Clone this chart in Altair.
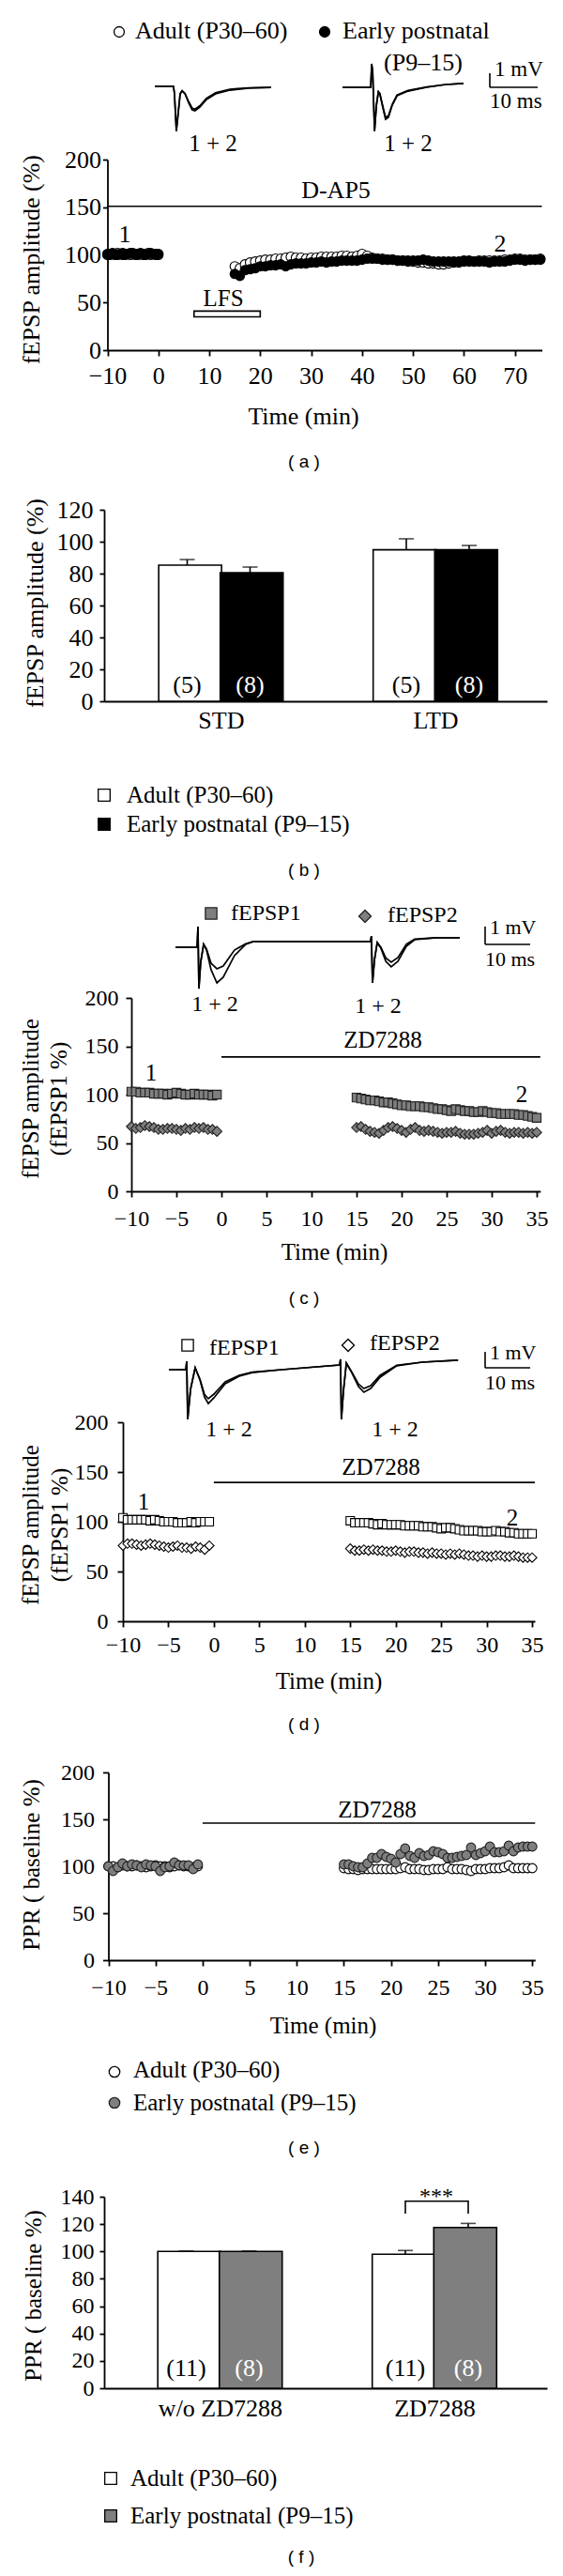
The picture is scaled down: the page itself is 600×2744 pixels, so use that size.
import altair as alt
import pandas as pd

W, H = 584, 2726
OFF = 8
SERIF = "Liberation Serif"
SANS = "Liberation Sans"
GRAY = "#7f7f7f"
EDGE = "#222222"

ADULT = "Adult (P30–60)"
EARLY = "Early postnatal (P9–15)"

# ---------------- (a) LFS in D-AP5 : fEPSP amplitude (%) ----------------
a_base_t = [-10, -9.5, -9, -8.5, -8, -7.5, -7, -6.5, -6, -5.5, -5, -4.5, -4, -3.5, -3, -2.5, -2, -1.5, -1, -0.5, 0]
a_base_adult = [100, 101, 101, 100, 102, 101, 100, 101, 101, 100, 102, 101, 100, 101, 100, 101, 102, 100, 101, 101, 100]
a_base_early = [101, 100, 102, 101, 100, 101, 102, 100, 101, 102, 101, 100, 101, 102, 101, 100, 101, 102, 101, 100, 101]
a_post_t = [15, 16, 17, 18, 19, 20, 21, 22, 23, 24, 25, 26, 27, 28, 29, 30, 31, 32, 33, 34, 35, 36, 37, 38, 39, 40,
            41, 42, 43, 44, 45, 46, 47, 48, 49, 50, 51, 52, 53, 54, 55, 56, 57, 58, 59, 60, 61, 62, 63, 64, 65, 66,
            67, 68, 69, 70, 71, 72, 73, 74, 75]
a_post_adult = [88, 86, 90, 92, 93, 94, 95, 95, 96, 96,
                97, 98, 97, 97, 96, 97, 97, 98, 98, 98,
                98, 99, 99, 98, 99, 101, 99, 97, 96, 96,
                95, 95, 94, 94, 93, 93, 92, 92, 91, 91,
                90, 90, 91, 92, 92, 93, 93, 93, 94, 94,
                94, 94, 94, 95, 95, 96, 96, 95, 95, 95,
                96]
a_post_early = [80, 78, 84, 85, 86, 88, 88, 89, 89, 90,
                88, 90, 91, 91, 91, 92, 92, 93, 92, 93,
                93, 94, 94, 94, 94, 95, 96, 96, 96, 95,
                95, 95, 94, 94, 94, 94, 94, 95, 94, 93,
                93, 93, 93, 93, 93, 94, 94, 93, 93, 93,
                92, 93, 93, 93, 94, 95, 95, 94, 95, 95,
                95]
a_ticks_x = [-10, 0, 10, 20, 30, 40, 50, 60, 70]
a_ticks_y = [0, 50, 100, 150, 200]

# waveform insets (ms, mV relative to baseline)
trA1_t = [0, 3.9, 4.1, 4.5, 4.9, 5.3, 5.7, 6.3, 7.1, 7.8, 8.4, 9.4, 10.8, 12.7, 15.7, 19.6, 24.3]
trA1_v1 = [0, 0, -0.53, -3.2, -1.87, -0.53, -0.33, -0.53, -1.2, -1.67, -1.73, -1.47, -0.93, -0.53, -0.27, -0.13, -0.07]
trA1_v2 = [0, 0, -0.5, -3.1, -1.8, -0.5, -0.3, -0.5, -1.1, -1.55, -1.62, -1.38, -0.85, -0.45, -0.2, -0.1, -0.07]
trA2_t = [0, 5.9, 6.1, 6.3, 6.7, 7.1, 7.5, 7.8, 8.4, 9.0, 9.6, 10.4, 11.4, 13.7, 17.6, 21.6, 25.3]
trA2_v1 = [0, 0, 1.67, 1.2, -3.13, -1.27, -0.33, -0.47, -1.4, -2.27, -2.13, -1.27, -0.6, -0.27, 0, 0.2, 0.27]
trA2_v2 = [0, 0, 1.6, 1.1, -3.05, -1.2, -0.3, -0.42, -1.3, -2.15, -2.02, -1.2, -0.55, -0.22, 0.03, 0.2, 0.27]

# ---------------- (b) STD / LTD bars ----------------
b_cats = ["STD", "LTD"]
b_adult = [85.3, 94.9]
b_adult_top = [88.8, 101.8]
b_early = [80.6, 94.9]
b_early_top = [84.1, 97.6]
b_n_adult = ["(5)", "(5)"]
b_n_early = ["(8)", "(8)"]
b_ticks_y = [0, 20, 40, 60, 80, 100, 120]

# ---------------- (c), (d), (e) time courses ----------------
cde_base_t = [-10, -9.5, -9, -8.5, -8, -7.5, -7, -6.5, -6, -5.5, -5, -4.5, -4, -3.5, -3, -2.5, -2, -1.5, -1, -0.5]
cde_post_t = [15, 15.5, 16, 16.5, 17, 17.5, 18, 18.5, 19, 19.5, 20, 20.5, 21, 21.5, 22, 22.5, 23, 23.5, 24, 24.5,
              25, 25.5, 26, 26.5, 27, 27.5, 28, 28.5, 29, 29.5, 30, 30.5, 31, 31.5, 32, 32.5, 33, 33.5, 34, 34.5, 35]
cde_ticks_x = [-10, -5, 0, 5, 10, 15, 20, 25, 30, 35]
cde_ticks_y = [0, 50, 100, 150, 200]

c_p1_base = [103, 103, 102, 102, 102, 101, 101, 101, 100, 101, 102, 101, 100, 100, 101, 100, 100, 100, 99, 100]
c_p2_base = [67, 65, 66, 68, 67, 66, 64, 64, 65, 65, 64, 63, 65, 64, 66, 65, 66, 64, 64, 62]
c_p1_post = [97, 96, 95, 94, 94, 93, 92, 92, 91, 90,
             89, 89, 88, 88, 88, 87, 87, 86, 85, 85,
             84, 83, 85, 84, 83, 83, 82, 82, 83, 82,
             81, 81, 80, 80, 80, 80, 79, 79, 78, 77,
             76]
c_p2_post = [66, 67, 64, 62, 61, 60, 63, 66, 67, 65,
             63, 61, 64, 66, 63, 62, 63, 62, 61, 60,
             61, 61, 62, 60, 59, 59, 59, 60, 61, 63,
             60, 62, 63, 61, 60, 61, 61, 60, 61, 60,
             61]
trC_t = [0, 4.8, 5.0, 5.2, 5.6, 6.25, 6.9, 7.9, 9.2, 10.6, 13.1, 15.6, 17.3, 43.3, 43.5, 43.75, 44.2, 44.8,
         45.6, 46.7, 47.9, 49.4, 51.25, 53.1, 57.9, 63.1]
trC_v1 = [0, 0, 1.16, -2.32, -0.84, 0.16, -0.16, -1.26, -2.0, -1.68, -0.47, 0.16, 0.32, 0.32, 0.63, -2.0, -0.68,
          0.26, -0.05, -0.79, -1.1, -0.79, 0.05, 0.42, 0.53, 0.53]
trC_v2 = [0, 0, 1.16, -2.32, -0.84, 0.16, -0.1, -0.9, -1.21, -1.05, -0.16, 0.2, 0.32, 0.32, 0.63, -2.0, -0.68,
          0.26, 0.0, -0.6, -0.84, -0.58, 0.16, 0.45, 0.53, 0.53]

d_p1_base = [104, 102, 102, 102, 102, 102, 101, 102, 101, 100, 100, 100, 99, 99, 99, 100, 99, 100, 100, 100]
d_p2_base = [76, 78, 78, 77, 76, 77, 78, 77, 76, 75, 74, 75, 76, 74, 74, 73, 75, 74, 72, 76]
d_p1_post = [101, 99, 99, 99, 99, 98, 97, 98, 97, 97,
             97, 97, 96, 96, 96, 96, 95, 95, 95, 94,
             93, 94, 94, 93, 92, 91, 91, 91, 91, 90,
             90, 90, 91, 90, 90, 89, 89, 88, 88, 88,
             88]
d_p2_post = [73, 71, 71, 72, 71, 72, 71, 71, 70, 70,
             71, 70, 69, 70, 70, 69, 69, 68, 69, 68,
             68, 67, 68, 67, 68, 67, 66, 66, 65, 66,
             65, 65, 66, 66, 65, 65, 66, 65, 64, 64,
             64]
trD_t = [0, 3.75, 3.96, 4.17, 4.8, 5.83, 6.9, 7.9, 8.75, 10.0, 12.5, 15.6, 18.5, 25, 37.9, 38.1, 38.3, 38.75,
         39.4, 40.6, 42.1, 43.3, 44.8, 46.9, 50.6, 56.25, 64.2]
trD_v1 = [0, 0, 0.53, -3.12, -1.24, 0.12, -0.65, -1.71, -2.12, -1.76, -0.88, -0.41, -0.18, 0, 0.29, 0.65, -3.12,
          -1.35, 0.41, -0.18, -1.06, -1.41, -1.18, -0.47, 0.24, 0.47, 0.59]
trD_v2 = [0, 0, 0.53, -3.12, -1.24, 0.12, -0.6, -1.55, -1.82, -1.53, -0.76, -0.35, -0.15, 0, 0.29, 0.65, -3.12,
          -1.35, 0.41, -0.15, -0.9, -1.18, -1.0, -0.35, 0.28, 0.47, 0.59]

e_adult_base = [100, 100, 99, 101, 100, 100, 101, 100, 99, 100, 101, 100, 100, 99, 100, 101, 100, 100, 99, 100]
e_early_base = [100, 95, 99, 103, 100, 102, 101, 99, 102, 101, 100, 95, 99, 100, 104, 101, 101, 101, 97, 102]
e_adult_post = [98, 97, 97, 96, 97, 97, 97, 97, 97, 97,
                97, 97, 98, 99, 97, 97, 97, 96, 96, 97,
                97, 97, 99, 97, 97, 97, 96, 95, 97, 97,
                97, 98, 98, 98, 99, 101, 98, 98, 98, 98,
                98]
e_early_post = [102, 102, 100, 99, 99, 103, 109, 109, 113, 110,
                108, 104, 113, 119, 111, 109, 114, 111, 112, 116,
                115, 113, 109, 109, 110, 111, 112, 120, 112, 114,
                116, 121, 115, 115, 116, 122, 116, 120, 121, 121,
                121]

# ---------------- (f) PPR bars ----------------
f_cats = ["w/o ZD7288", "ZD7288"]
f_adult = [100, 98]
f_adult_top = [100.3, 100.7]
f_early = [100, 117.5]
f_early_top = [100.3, 120.5]
f_n_adult = ["(11)", "(11)"]
f_n_early = ["(8)", "(8)"]
f_ticks_y = [0, 20, 40, 60, 80, 100, 120, 140]
f_bracket_low, f_bracket_high = 127.7, 136.7

# =====================================================================
ONE = pd.DataFrame({"k": [0]})


def P(v):
    return v - OFF


def lin(d0, d1, r0, r1):
    return alt.Scale(domain=[d0, d1], range=[P(r0), P(r1)], nice=False, zero=False)


AX = dict(domainColor="black", domainWidth=1.8, tickColor="black", tickWidth=1.8,
          labelColor="black", labelFont=SERIF, titleFont=SERIF, titleColor="black",
          titleFontWeight="normal", grid=False, labelFlush=False, labelOverlap=False)


def x_axis(axis_y, values, title=None, tx=0, ty=0, fs=24, tfs=25, lab_dist=27, tick=6, ticks=True,
           label_expr=None):
    kw = dict(orient="bottom", offset=P(axis_y) - H, values=values, labelFontSize=fs,
              labelBaseline="middle", labelAngle=0, **AX)
    if label_expr:
        kw["labelExpr"] = label_expr
    if ticks:
        kw["tickSize"] = tick
        kw["labelPadding"] = lab_dist - tick
    else:
        kw["ticks"] = False
        kw["tickSize"] = 0
        kw["labelPadding"] = lab_dist
    if title:
        kw.update(title=title, titleFontSize=tfs, titleX=P(tx), titleY=ty - axis_y,
                  titleAlign="center", titleBaseline="middle", titleAngle=0)
    else:
        kw["title"] = ""
    return alt.Axis(**kw)


def y_axis(axis_x, values, title, tx, ty, fs=24, tfs=25, tick=6, pad=8, lh=0):
    kw = dict(orient="left", offset=-P(axis_x), values=values, tickSize=tick, labelFontSize=fs,
              labelPadding=pad, labelAlign="right", labelBaseline="middle",
              title=title, titleFontSize=tfs, titleX=tx - axis_x, titleY=P(ty),
              titleAngle=270, titleAlign="center", titleBaseline="middle", **AX)
    if lh:
        kw["titleLineHeight"] = lh
    return alt.Axis(**kw)


def txt(s, x, y, size=25, font=SERIF, align="center", color="black"):
    return alt.Chart(ONE).mark_text(text=s, font=font, fontSize=size, align=align, baseline="middle",
                                    color=color).encode(x=alt.value(P(x)), y=alt.value(P(y)))


def sym(x, y, shape, size, fill, stroke="black", sw=1.3):
    return alt.Chart(ONE).mark_point(shape=shape, size=size, filled=True, fill=fill, stroke=stroke,
                                     strokeWidth=sw, opacity=1).encode(x=alt.value(P(x)), y=alt.value(P(y)))


def hline(x1, x2, y, w=1.6):
    return alt.Chart(ONE).mark_rule(color="black", strokeWidth=w).encode(
        x=alt.value(P(x1)), x2=alt.value(P(x2)), y=alt.value(P(y)))


def vline(x, y1, y2, w=1.6):
    return alt.Chart(ONE).mark_rule(color="black", strokeWidth=w).encode(
        x=alt.value(P(x)), y=alt.value(P(y1)), y2=alt.value(P(y2)))


def scalebar(x, ytop, ybot, xend, ty1, ty2, fs=22):
    return [vline(x, ytop, ybot), hline(x, xend, ybot),
            txt("1 mV", x + 5, ty1, fs, align="left"), txt("10 ms", x, ty2, fs, align="left")]


def trace(t, v1, v2, x0, y0, pxms, pxmv, vmin=-4, vmax=2):
    df = pd.DataFrame({"t": t + t, "v": v1 + v2, "c": ["1"] * len(t) + ["2"] * len(t)})
    xs = lin(0, t[-1], x0, x0 + t[-1] * pxms)
    ys = lin(vmin, vmax, y0 - vmin * pxmv, y0 - vmax * pxmv)
    return alt.Chart(df).mark_line(color="black", strokeWidth=1.7).encode(
        x=alt.X("t:Q", scale=xs, axis=None), y=alt.Y("v:Q", scale=ys, axis=None), detail="c:N")


def series(t, v, xs, ys, shape, size, fill, stroke="black", xaxis=None, yaxis=None):
    df = pd.DataFrame({"t": t, "v": v})
    return alt.Chart(df).mark_point(shape=shape, size=size, filled=True, fill=fill, stroke=stroke,
                                    strokeWidth=1.1, opacity=1).encode(
        x=alt.X("t:Q", scale=xs, axis=xaxis), y=alt.Y("v:Q", scale=ys, axis=yaxis))


def hrule(x0, x1, yv, xs, ys):
    df = pd.DataFrame({"x0": [x0], "x1": [x1], "y": [yv]})
    return alt.Chart(df).mark_rule(color="black", strokeWidth=1.6).encode(
        x=alt.X("x0:Q", scale=xs, axis=None), x2="x1:Q", y=alt.Y("y:Q", scale=ys, axis=None))


def bar_scale(axis_x0, axis_x1, c0, c1):
    """category index 0 -> page px c0, 1 -> c1; axis line spans axis_x0..axis_x1"""
    step = c1 - c0
    return lin(-(c0 - axis_x0) / step, 1 + (axis_x1 - c1) / step, axis_x0, axis_x1), step


def bar_panel(cats, adult, adult_top, early, early_top, n_adult, n_early, early_fill,
              xs, step, ys, xaxis, yaxis, n_y, bar_w=67):
    off = (bar_w / 2) / step
    idx = list(range(len(cats)))
    df = pd.DataFrame({
        "pos": [i - off for i in idx] + [i + off for i in idx],
        "grp": [ADULT] * len(cats) + [EARLY] * len(cats),
        "val": adult + early, "top": adult_top + early_top, "n": n_adult + n_early})
    base = alt.Chart(df)
    X0 = alt.X("pos:Q", scale=xs, axis=None)
    bars = base.mark_bar(orient="vertical", size=bar_w, stroke="black", strokeWidth=1.6).encode(
        x=alt.X("pos:Q", scale=xs, axis=xaxis),
        y=alt.Y("val:Q", scale=ys, axis=yaxis), y2=alt.datum(0),
        fill=alt.Fill("grp:N", scale=alt.Scale(domain=[ADULT, EARLY], range=["white", early_fill]),
                      legend=None))
    err = base.mark_rule(color="black", strokeWidth=1.6).encode(
        x=X0, y=alt.Y("val:Q", scale=ys, axis=None), y2="top:Q")
    cap = base.mark_tick(orient="horizontal", color="black", thickness=1.6, size=16).encode(
        x=X0, y=alt.Y("top:Q", scale=ys, axis=None))
    lab = base.mark_text(font=SERIF, fontSize=26, baseline="middle").encode(
        x=X0, y=alt.value(P(n_y)), text="n:N",
        color=alt.Color("grp:N", scale=alt.Scale(domain=[ADULT, EARLY], range=["black", "white"]),
                        legend=None))
    return [bars, err, cap, lab], off


def cat_expr(cats):
    return "datum.value < 0.5 ? '%s' : '%s'" % (cats[0], cats[1])


layers = []

# ============================ (a) ============================
xa = lin(-10, 75.3, 114.5, 577.5)
ya = lin(0, 200, 373, 170)
ax_a_x = x_axis(373, a_ticks_x, "Time (min)", 323, 443, fs=26, tfs=26, lab_dist=27, tick=6)
ax_a_y = y_axis(114.5, a_ticks_y, "fEPSP amplitude (%)", 33, 276, fs=26, tfs=26, tick=5, pad=2)
layers += [
    series(a_base_t + a_post_t, a_base_adult + a_post_adult, xa, ya, "circle", 100, "white",
           xaxis=ax_a_x, yaxis=ax_a_y),
    series(a_base_t + a_post_t, a_base_early + a_post_early, xa, ya, "circle", 100, "black"),
    hrule(-10, 75.3, 151, xa, ya),
    alt.Chart(pd.DataFrame({"x0": [7], "x1": [20], "y0": [35], "y1": [41]})).mark_rect(
        fill="white", stroke="black", strokeWidth=1.6).encode(
        x=alt.X("x0:Q", scale=xa, axis=None), x2="x1:Q", y=alt.Y("y0:Q", scale=ya, axis=None), y2="y1:Q"),
    trace(trA1_t, trA1_v1, trA1_v2, 165, 92, 5.1, 15),
    trace(trA2_t, trA2_v1, trA2_v2, 365, 93, 5.1, 15),
    sym(127, 34, "circle", 120, "white"), txt(ADULT, 144, 33, 26, align="left"),
    sym(346, 34, "circle", 120, "black"), txt("Early postnatal", 365, 33, 26, align="left"),
    txt("(P9–15)", 451, 67, 26),
    txt("1 + 2", 227, 153, 25), txt("1 + 2", 435, 153, 25),
    txt("D-AP5", 358, 203, 26), txt("1", 133, 250, 26), txt("2", 533, 260, 26), txt("LFS", 238, 318, 25),
    txt("( a )", 324, 492, 19, font=SANS),
]
layers += scalebar(522, 78, 93, 573, 74, 108, fs=23)

# ============================ (b) ============================
xb, stepb = bar_scale(111, 583, 233, 466.5)
yb = lin(0, 120, 747, 543)
ax_b_x = x_axis(747, [0, 1], fs=26, lab_dist=20, ticks=False, label_expr=cat_expr(b_cats))
ax_b_y = y_axis(111, b_ticks_y, "fEPSP amplitude (%)", 37, 642, fs=26, tfs=26, tick=5, pad=7)
bl, _ = bar_panel(b_cats, b_adult, b_adult_top, b_early, b_early_top, b_n_adult, b_n_early, "black",
                  xb, stepb, yb, ax_b_x, ax_b_y, 730)
layers += bl
layers += [
    sym(111, 847, "square", 160, "white"), txt(ADULT, 135, 847, 25, align="left"),
    sym(111, 878, "square", 160, "black"), txt(EARLY, 135, 878, 25, align="left"),
    txt("( b )", 324, 927, 19, font=SANS),
]

# ============================ (c) ============================
xc = lin(-10, 35.4, 140, 575.8)
yc = lin(0, 200, 1269, 1063)
ax_c_x = x_axis(1269, cde_ticks_x, "Time (min)", 356, 1333, lab_dist=29)
ax_c_y = y_axis(140, cde_ticks_y, ["fEPSP amplitude", "(fEPSP1 %)"], 32, 1170, pad=8, lh=30)
layers += [
    series(cde_base_t + cde_post_t, c_p1_base + c_p1_post, xc, yc, "square", 85, GRAY, EDGE,
           xaxis=ax_c_x, yaxis=ax_c_y),
    series(cde_base_t + cde_post_t, c_p2_base + c_p2_post, xc, yc, "diamond", 110, GRAY, EDGE),
    hrule(0, 35.4, 139, xc, yc),
    trace(trC_t, trC_v1, trC_v2, 187, 1009, 4.8, 19, vmin=-3, vmax=2),
    sym(225, 973, "square", 150, GRAY, EDGE), txt("fEPSP1", 246, 973, 24, align="left"),
    sym(389, 976, "diamond", 170, GRAY, EDGE), txt("fEPSP2", 413, 975, 24, align="left"),
    txt("1 + 2", 229, 1070, 24), txt("1 + 2", 403, 1072, 24),
    txt("ZD7288", 408, 1108, 25), txt("1", 161, 1143, 25), txt("2", 556, 1166, 25),
    txt("( c )", 324, 1383, 19, font=SANS),
]
layers += scalebar(517, 987, 1006, 565, 988, 1022)

# ============================ (d) ============================
xd = lin(-10, 35.3, 131, 570)
yd = lin(0, 200, 1727, 1515)
ax_d_x = x_axis(1727, cde_ticks_x, "Time (min)", 350, 1790, lab_dist=25)
ax_d_y = y_axis(131, cde_ticks_y, ["fEPSP amplitude", "(fEPSP1 %)"], 32, 1624, pad=10, lh=31)
layers += [
    series(cde_base_t + cde_post_t, d_p1_base + d_p1_post, xd, yd, "square", 80, "white",
           xaxis=ax_d_x, yaxis=ax_d_y),
    series(cde_base_t + cde_post_t, d_p2_base + d_p2_post, xd, yd, "diamond", 100, "white"),
    hrule(0, 35.3, 139.5, xd, yd),
    trace(trD_t, trD_v1, trD_v2, 180, 1459, 4.8, 17),
    sym(200, 1433, "square", 150, "white"), txt("fEPSP1", 223, 1436, 24, align="left"),
    sym(371, 1433, "diamond", 170, "white"), txt("fEPSP2", 394, 1431, 24, align="left"),
    txt("1 + 2", 244, 1523, 24), txt("1 + 2", 421, 1523, 24),
    txt("ZD7288", 406, 1563, 25), txt("1", 153, 1600, 25), txt("2", 546, 1617, 25),
    txt("( d )", 324, 1837, 19, font=SANS),
]
layers += scalebar(517, 1440, 1457, 565, 1441, 1473)

# ============================ (e) ============================
xe = lin(-10, 35.3, 115.5, 570.3)
ye = lin(0, 200, 2088, 1888)
ax_e_x = x_axis(2088, cde_ticks_x, "Time (min)", 344, 2157, lab_dist=29)
ax_e_y = y_axis(115.5, cde_ticks_y, "PPR ( baseline %)", 33, 1986, pad=9)
layers += [
    series(cde_base_t + cde_post_t, e_adult_base + e_adult_post, xe, ye, "circle", 95, "white",
           xaxis=ax_e_x, yaxis=ax_e_y),
    series(cde_base_t + cde_post_t, e_early_base + e_early_post, xe, ye, "circle", 95, GRAY, EDGE),
    hrule(0, 35.3, 146, xe, ye),
    txt("ZD7288", 402, 1928, 25),
    sym(122, 2207, "circle", 130, "white"), txt(ADULT, 142, 2205, 25, align="left"),
    sym(122, 2240, "circle", 130, GRAY, EDGE), txt(EARLY, 142, 2240, 25, align="left"),
    txt("( e )", 324, 2288, 19, font=SANS),
]

# ============================ (f) ============================
xf, stepf = bar_scale(111, 583, 232, 465.5)
yf = lin(0, 140, 2544, 2340)
ax_f_x = x_axis(2544, [0, 1], fs=26, lab_dist=21, ticks=False, label_expr=cat_expr(f_cats))
ax_f_y = y_axis(111, f_ticks_y, "PPR ( baseline %)", 35, 2445, tick=5, pad=6)
fl, offf = bar_panel(f_cats, f_adult, f_adult_top, f_early, f_early_top, f_n_adult, f_n_early, GRAY,
                     xf, stepf, yf, ax_f_x, ax_f_y, 2523)
layers += fl
bracket = pd.DataFrame({"pos": [1 - offf, 1 - offf, 1 + offf, 1 + offf],
                        "y": [f_bracket_low, f_bracket_high, f_bracket_high, f_bracket_low],
                        "o": [0, 1, 2, 3]})
layers += [
    alt.Chart(bracket).mark_line(color="black", strokeWidth=1.6).encode(
        x=alt.X("pos:Q", scale=xf, axis=None), y=alt.Y("y:Q", scale=yf, axis=None), order="o:Q"),
    txt("***", 465, 2340, 24),
    sym(118, 2640, "square", 160, "white"), txt(ADULT, 139, 2640, 25, align="left"),
    sym(118, 2680, "square", 160, GRAY), txt(EARLY, 139, 2680, 25, align="left"),
    txt("( f )", 321, 2724, 19, font=SANS),
]

chart = alt.layer(*layers).properties(
    width=W, height=H, autosize=alt.AutoSizeParams(type="none"), padding=0
).resolve_scale(
    x="independent", y="independent", fill="independent", color="independent"
).resolve_axis(
    x="independent", y="independent"
).configure_view(stroke=None)

chart.save("out.html", embed_options={"renderer": "svg", "actions": False})
